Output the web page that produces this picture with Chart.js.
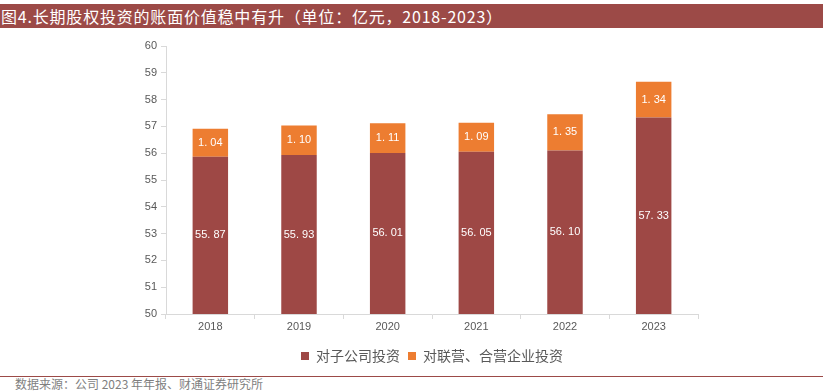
<!DOCTYPE html>
<html>
<head>
<meta charset="utf-8">
<script src="https://cdn.jsdelivr.net/npm/chart.js@4"></script>
<style>
  html, body { margin: 0; padding: 0; background: #fff; }
  body { width: 823px; height: 392px; position: relative; overflow: hidden; font-family: "Noto Sans CJK SC", sans-serif; }
  #title { position: absolute; left: 0; top: 4px; width: 823px; height: 24px; background: #9c4a47; color: #fff; font-size: 16px; line-height: 24px; padding-left: 1px; letter-spacing: 0.8px; box-sizing: border-box; white-space: nowrap; }
  #wrap { position: absolute; left: 0; top: 30px; width: 823px; height: 343px; }
  #rule { position: absolute; left: 0; top: 376px; width: 823px; height: 1px; background: #9c4a47; }
  #source { position: absolute; left: 15px; top: 377px; font-size: 12px; color: #7f7f7f; line-height: 14px; white-space: nowrap; }
</style>
</head>
<body>
<div id="title">图4.长期股权投资的账面价值稳中有升（单位：亿元，2018-2023）</div>
<div id="wrap"><canvas id="chart"></canvas></div>
<div id="rule"></div>
<div id="source">数据来源：公司 2023 年年报、财通证券研究所</div>
<script>
const years = ['2018', '2019', '2020', '2021', '2022', '2023'];
const subsidiaries = [55.87, 55.93, 56.01, 56.05, 56.10, 57.33];
const associates = [1.04, 1.10, 1.11, 1.09, 1.35, 1.34];
const seriesNames = ['对子公司投资', '对联营、合营企业投资'];

// labels centred in each visible stacked segment
const segmentLabels = {
    id: 'segmentLabels',
    afterDatasetsDraw(chart) {
        const ctx = chart.ctx;
        const y = chart.scales.y;
        const area = chart.chartArea;
        ctx.save();
        ctx.fillStyle = '#ffffff';
        ctx.font = '11px "Liberation Sans", Arial, sans-serif';
        ctx.textAlign = 'center';
        ctx.textBaseline = 'middle';
        chart.data.labels.forEach((lab, i) => {
            let cum = 0;
            chart.data.datasets.forEach((ds, di) => {
                const v = ds.data[i];
                const lo = Math.max(cum, y.min);
                const hi = cum + v;
                cum = hi;
                const x = chart.getDatasetMeta(di).data[i].x;
                const yc = (y.getPixelForValue(lo) + y.getPixelForValue(hi)) / 2;
                ctx.fillText(v.toFixed(2).replace('.', '. '), x, Math.min(yc, area.bottom));
            });
        });
        ctx.restore();
    }
};

new Chart(document.getElementById('chart'), {
    type: 'bar',
    data: {
        labels: years,
        datasets: [
            { label: seriesNames[0], data: subsidiaries, backgroundColor: '#9e4845', barPercentage: 0.4, categoryPercentage: 1 },
            { label: seriesNames[1], data: associates, backgroundColor: '#ed7d31', barPercentage: 0.4, categoryPercentage: 1 }
        ]
    },
    options: {
        responsive: true, maintainAspectRatio: false,
        animation: false,
        layout: { padding: { left: 0, right: 125, top: 16, bottom: 0 } },
        plugins: {
            legend: {
                position: 'bottom',
                fullSize: false,
                labels: {
                    boxWidth: 8, boxHeight: 8, padding: 8,
                    color: '#595959',
                    font: { size: 14, family: '"Noto Sans CJK SC", sans-serif' }
                }
            },
            tooltip: { enabled: false }
        },
        scales: {
            x: {
                stacked: true,
                grid: { display: true, drawOnChartArea: false, offset: true, tickLength: 5, color: '#d9d9d9' },
                border: { color: '#d9d9d9' },
                ticks: { color: '#595959', font: { size: 11, family: '"Liberation Sans", Arial, sans-serif' }, padding: 1 },
                afterFit: (s) => { s.height = 27; }
            },
            y: {
                stacked: true,
                min: 50, max: 60,
                grid: { display: true, drawOnChartArea: false, tickLength: 5, color: '#d9d9d9' },
                border: { color: '#d9d9d9' },
                ticks: { stepSize: 1, color: '#595959', font: { size: 11, family: '"Liberation Sans", Arial, sans-serif' }, padding: 4 },
                afterFit: (s) => { s.width = 166; }
            }
        }
    },
    plugins: [segmentLabels]
});
</script>
</body>
</html>
